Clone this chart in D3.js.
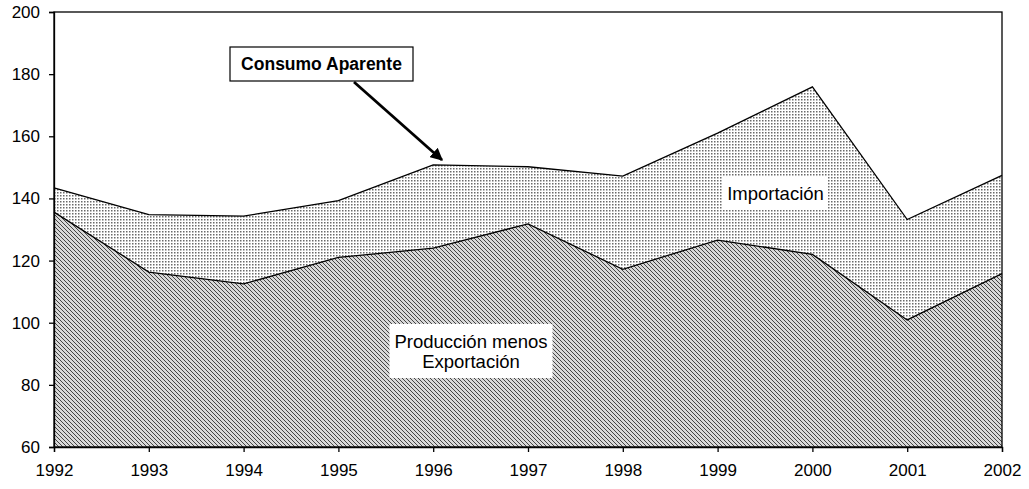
<!DOCTYPE html>
<html>
<head>
<meta charset="utf-8">
<script src="https://cdn.jsdelivr.net/npm/d3@7"></script>
<style>
  html, body { margin: 0; padding: 0; background: #fff; }
  svg { display: block; font-family: "Liberation Sans", Arial, sans-serif; }
</style>
</head>
<body>
<svg id="chart" width="1029" height="489"></svg>
<script>
// Years on the x axis
const years = [1992, 1993, 1994, 1995, 1996, 1997, 1998, 1999, 2000, 2001, 2002];
// Producción menos Exportación (lower band)
const produccionNeta = [135.6, 116.3, 112.5, 121.0, 124.0, 131.8, 117.2, 126.6, 122.0, 100.9, 115.8];
// Consumo Aparente (top of the stacked area = producción neta + importación)
const consumoAparente = [143.4, 134.8, 134.3, 139.3, 150.8, 150.2, 147.2, 161.0, 175.9, 133.2, 147.4];
// Axis ticks
const yTicks = [60, 80, 100, 120, 140, 160, 180, 200];

const svg = d3.select("#chart");
const margin = { left: 54, right: 27, top: 12, bottom: 42 };
const W = 1029, H = 489;
const FONT = "'Liberation Sans', Arial, sans-serif";

const x = d3.scaleLinear().domain([1992, 2002]).range([margin.left, W - margin.right]);
const y = d3.scaleLinear().domain([60, 200]).range([H - margin.bottom, margin.top]);

// Fill patterns
const defs = svg.append("defs");
const hatch = defs.append("pattern")
  .attr("id", "hatch").attr("patternUnits", "userSpaceOnUse")
  .attr("width", 4).attr("height", 4);
hatch.append("rect").attr("width", 4).attr("height", 4).attr("fill", "#d8d8d8");
hatch.append("path").attr("d", "M0,0 L4,4 M-1,3 L1,5 M3,-1 L5,1")
  .attr("stroke", "#444").attr("stroke-width", 1.3).attr("shape-rendering", "crispEdges");

const dots = defs.append("pattern")
  .attr("id", "dots").attr("patternUnits", "userSpaceOnUse")
  .attr("width", 3).attr("height", 3);
dots.append("rect").attr("width", 3).attr("height", 3).attr("fill", "#fff");
dots.append("rect").attr("width", 1.5).attr("height", 1.5).attr("fill", "#6a6a6a");

const rows = years.map((yr, i) => ({ yr, low: produccionNeta[i], top: consumoAparente[i] }));

// Importación band (between the two curves)
svg.append("path").datum(rows)
  .attr("fill", "url(#dots)")
  .attr("d", d3.area().x(d => x(d.yr)).y0(d => y(d.low)).y1(d => y(d.top)));

// Producción menos Exportación band (from axis floor to lower curve)
svg.append("path").datum(rows)
  .attr("fill", "url(#hatch)")
  .attr("d", d3.area().x(d => x(d.yr)).y0(y(60)).y1(d => y(d.low)));

// Outline lines
const line = acc => d3.line().x(d => x(d.yr)).y(d => y(acc(d)));
svg.append("path").datum(rows).attr("fill", "none").attr("stroke", "#000").attr("stroke-width", 1.3)
  .attr("d", line(d => d.top));
svg.append("path").datum(rows).attr("fill", "none").attr("stroke", "#000").attr("stroke-width", 1.3)
  .attr("d", line(d => d.low));

// Plot frame
svg.append("rect")
  .attr("x", margin.left).attr("y", margin.top)
  .attr("width", W - margin.right - margin.left).attr("height", H - margin.bottom - margin.top)
  .attr("fill", "none").attr("stroke", "#000").attr("stroke-width", 1.3);

// Axes
const yAxis = svg.append("g").attr("transform", `translate(${margin.left},0)`)
  .call(d3.axisLeft(y).tickValues(yTicks).tickSize(5).tickPadding(9).tickFormat(d3.format("d")));
const xAxis = svg.append("g").attr("transform", `translate(0,${H - margin.bottom})`)
  .call(d3.axisBottom(x).tickValues(years).tickSize(5).tickPadding(12).tickFormat(d3.format("d")));
[yAxis, xAxis].forEach(g => {
  g.select(".domain").attr("stroke", "#000").attr("stroke-width", 1.3);
  g.selectAll(".tick line").attr("stroke", "#000").attr("stroke-width", 1.3);
  g.selectAll(".tick text").attr("fill", "#000").style("font-size", "17px").style("font-family", FONT);
});

// Text labels on white rectangles; box given as centre and size
function boxedLabel(lines, cx, cy, bw, bh, lineH, opts = {}) {
  const g = svg.append("g");
  g.append("rect")
    .attr("x", cx - bw / 2).attr("y", cy - bh / 2)
    .attr("width", bw).attr("height", bh)
    .attr("fill", "#fff")
    .attr("stroke", opts.border ? "#000" : "none").attr("stroke-width", 1.2);
  const t = g.append("text").attr("text-anchor", "middle")
    .style("font-size", (opts.size || 18) + "px").style("font-family", FONT)
    .style("font-weight", opts.bold ? "bold" : "normal").attr("fill", "#000");
  lines.forEach((s, i) => {
    t.append("tspan").attr("x", cx).attr("y", cy + (i - (lines.length - 1) / 2) * lineH)
      .attr("dy", "0.36em").text(s);
  });
  return g;
}

boxedLabel(["Importación"], 775.5, 193, 105, 34, 20, { size: 18.5 });
boxedLabel(["Producción menos", "Exportación"], 471, 351, 163, 54, 20, { size: 18.5 });

// Callout for Consumo Aparente
defs.append("marker").attr("id", "arrow").attr("viewBox", "0 0 10 10")
  .attr("refX", 9).attr("refY", 5).attr("markerWidth", 4.5).attr("markerHeight", 4.5)
  .attr("markerUnits", "strokeWidth")
  .attr("orient", "auto")
  .append("path").attr("d", "M0,0 L10,5 L0,10 z").attr("fill", "#000");
svg.append("line")
  .attr("x1", 354).attr("y1", 82)
  .attr("x2", 442).attr("y2", 160)
  .attr("stroke", "#000").attr("stroke-width", 2.8).attr("marker-end", "url(#arrow)");
boxedLabel(["Consumo Aparente"], 321.5, 64, 183, 34, 18, { bold: true, border: true, size: 17.5 });
</script>
</body>
</html>
